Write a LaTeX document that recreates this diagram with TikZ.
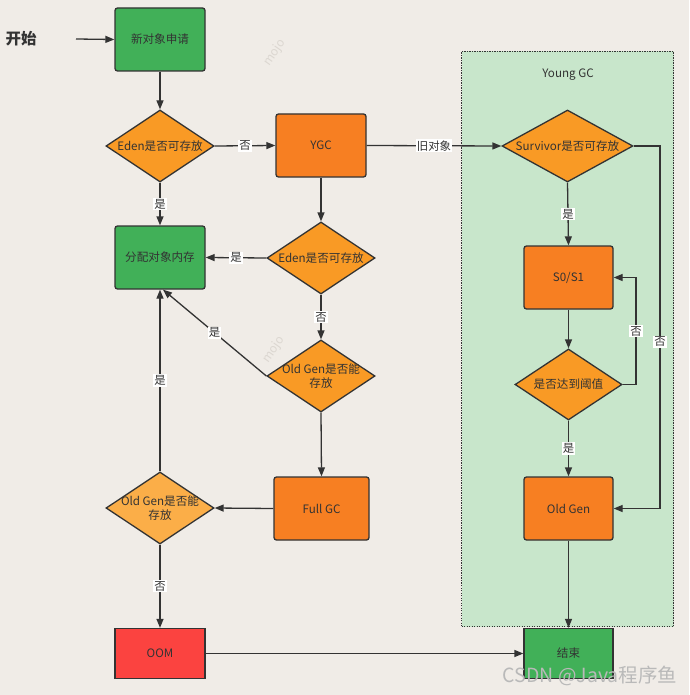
\documentclass[tikz,border=0pt]{standalone}
\usepackage{fontspec}
\setmainfont{Noto Sans CJK SC}
\usetikzlibrary{shapes.geometric,arrows.meta,calc}
\definecolor{bg}{HTML}{F0ECE7}
\definecolor{gbox}{HTML}{41B058}
\definecolor{odia}{HTML}{F99A25}
\definecolor{obox}{HTML}{F77F22}
\definecolor{ldia}{HTML}{FBAE48}
\definecolor{rbox}{HTML}{FB4340}
\definecolor{ygcfill}{HTML}{C8E6CB}
\definecolor{ink}{HTML}{333333}
\definecolor{wmark}{HTML}{DCD7D1}
\begin{document}
\begin{tikzpicture}[x=1pt,y=-1pt,
  every node/.style={font=\fontsize{11.6}{13.5}\selectfont, text=ink},
  box/.style={draw=ink, line width=1.3pt, rounded corners=2.5pt, minimum width=90pt, minimum height=63pt, inner sep=0pt},
  sqbox/.style={box, rounded corners=0pt, minimum height=50pt},
  dia/.style={diamond, draw=ink, line width=1.3pt, minimum width=108pt, minimum height=72pt, inner sep=0pt},
  arr/.style={draw=ink, line width=1.3pt, -{Triangle[length=9pt,width=7pt]}},
  lbl/.style={fill=white, inner sep=1pt, font=\fontsize{11.4}{13}\selectfont},
]
\fill[bg] (0,0) rectangle (689,695);
\useasboundingbox (0,0) rectangle (689,695);

% watermarks
\node[text=wmark, rotate=55, font=\fontsize{12}{14}\selectfont] (mj1) at (275,53) {mojo};
\node[text=wmark, rotate=55, font=\fontsize{12}{14}\selectfont] (mj2) at (274,350) {mojo};

% Young GC container
\node[draw=ink, line width=1pt, dash pattern=on 1.2pt off 1.3pt, fill=ygcfill, minimum width=212pt, minimum height=575pt, inner sep=0pt, anchor=north west] (yg) at (461,51) {};
\node (ygt) at (568,75) {Young GC};

% start
\node[font=\fontsize{15.5}{18}\bfseries] (start) at (21,39) {开始};
\coordinate (sc) at (76,39);

% boxes
\node[box, fill=gbox] (b1) at (160,39.5) {新对象申请};
\node[box, fill=gbox] (alloc) at (160,257.5) {分配对象内存};
\node[box, fill=obox] (ygc) at (321,145.5) {YGC};
\node[box, fill=obox, minimum width=95pt] (fgc) at (321.5,508.5) {Full GC};
\node[box, fill=obox, minimum width=89pt] (s0) at (568.5,277.5) {S0/S1};
\node[box, fill=obox, minimum width=89pt] (og) at (568.5,508.5) {Old Gen};
\node[sqbox, fill=rbox] (oom) at (160,653.5) {OOM};
\node[sqbox, fill=gbox, minimum width=89pt] (end) at (568.5,653.5) {结束};

% diamonds
\node[dia, fill=odia, label={center:Eden是否可存放}] (d1) at (160,146) {};
\node[dia, fill=odia, label={center:Eden是否可存放}] (d2) at (321,258) {};
\node[dia, fill=odia, label={[align=center]center:Old Gen是否能\\存放}] (od1) at (321,376) {};
\node[dia, fill=ldia, label={[align=center]center:Old Gen是否能\\存放}] (od2) at (160,508) {};
\node[dia, fill=odia, minimum width=131pt, label={center:Survivor是否可存放}] (surv) at (567.5,146) {};
\node[dia, fill=odia, minimum width=107pt, minimum height=71pt, label={center:是否达到阈值}] (thr) at (568.5,384.5) {};

\coordinate (c1) at (636,0);
\coordinate (c2) at (660,0);

% connectors
\draw[arr] (sc) -- (b1.west);
\draw[arr] (b1.south) -- (d1.north);
\draw[arr] (d1.south) -- node[lbl]{是} (alloc.north);
\draw[arr] (d1.east) -- node[lbl]{否} (ygc.west);
\draw[arr] (ygc.east) -- node[lbl]{旧对象} (surv.west);
\draw[arr] (ygc.south) -- (d2.north);
\draw[arr] (d2.west) -- node[lbl]{是} (alloc.east);
\draw[arr] (d2.south) -- node[lbl]{否} (od1.north);
\draw[arr] (od1.west) -- node[lbl]{是} ([xshift=3pt]alloc.south);
\draw[arr] (od1.south) -- (fgc.north);
\draw[arr] (fgc.west) -- (od2.east);
\draw[arr] (od2.north) -- node[lbl]{是} (alloc.south);
\draw[arr] (od2.south) -- node[lbl]{否} (oom.north);
\draw[arr] (oom.east) -- (end.west);
\draw[arr] (surv.south) -- node[lbl]{是} (s0.north);
\draw[arr] (s0.south) -- (thr.north);
\draw[arr] (thr.south) -- node[lbl]{是} (og.north);
\draw[arr] (og.south) -- (end.north);
\draw[arr] (thr.east) -- (thr.east -| c1) |- node[lbl,pos=0.25]{否} (s0.east);
\draw[arr] (surv.east) -- (surv.east -| c2) |- node[lbl,pos=0.27]{否} (og.east);

% CSDN watermark
\node[text=gray!55, font=\fontsize{19.5}{22}\selectfont] (wm) at (590,676) {CSDN @Java程序鱼};
\end{tikzpicture}
\end{document}
